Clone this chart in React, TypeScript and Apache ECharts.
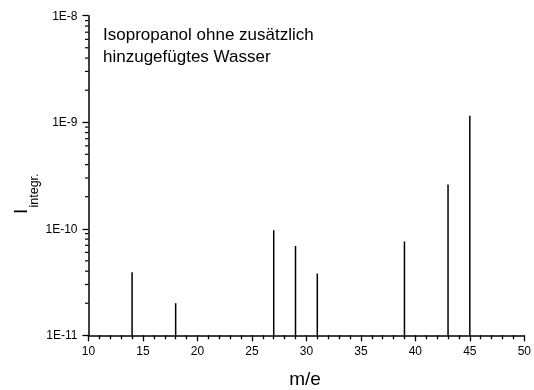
import React, { useEffect, useRef } from "react";
import * as echarts from "echarts";

const massNumbers = [14, 18, 27, 29, 31, 39, 43, 45];
const intensities = [3.9e-11, 2.0e-11, 9.7e-11, 6.9e-11, 3.8e-11, 7.6e-11, 2.6e-10, 1.15e-9];
const yDecades = [1e-11, 1e-10, 1e-9];
const yMantissas = [2, 3, 4, 5, 6, 7, 8, 9];
const annotationLines = ["Isopropanol ohne zusätzlich", "hinzugefügtes Wasser"];
const xTitle = "m/e";
const yTitleMain = "I";
const yTitleSub = "integr.";

const FONT = "'Liberation Sans', Arial, sans-serif";

export default function App() {
  const ref = useRef<HTMLDivElement>(null);
  useEffect(() => {
    if (!ref.current) return;
    const chart = echarts.init(ref.current, undefined, { renderer: "svg" });
    const stems = massNumbers.map((m, i) => [m, intensities[i]]);
    const minorTicks: number[][] = [];
    yDecades.forEach((d) => yMantissas.forEach((k) => minorTicks.push([10, k * d])));

    chart.setOption({
      animation: false,
      textStyle: { fontFamily: FONT, color: "#000" },
      grid: { left: 88.5, right: 9.7, top: 15.7, bottom: 54.7, outerBoundsMode: "none" },
      xAxis: {
        type: "value",
        min: 10,
        max: 50,
        interval: 5,
        axisLine: { show: true, lineStyle: { color: "#000", width: 1.5 } },
        axisTick: { show: true, inside: false, length: 6, lineStyle: { color: "#000", width: 1.3 } },
        minorTick: { show: true, splitNumber: 5, length: 4, lineStyle: { color: "#000", width: 1.3 } },
        axisLabel: { color: "#000", fontSize: 12, margin: 10, fontFamily: FONT },
        splitLine: { show: false },
      },
      yAxis: {
        type: "log",
        logBase: 10,
        min: 1e-11,
        max: 1e-8,
        axisLine: { show: true, lineStyle: { color: "#000", width: 1.5 } },
        axisTick: { show: true, inside: false, length: 6, lineStyle: { color: "#000", width: 1.3 } },
        axisLabel: {
          color: "#000",
          fontSize: 12,
          margin: 11,
          fontFamily: FONT,
          formatter: (v: number) => "1E" + Math.round(Math.log10(v)),
        },
        splitLine: { show: false },
      },
      series: [
        {
          type: "custom",
          data: stems,
          renderItem: (params: any, api: any) => {
            const p0 = api.coord([api.value(0), 1e-11]);
            const p1 = api.coord([api.value(0), api.value(1)]);
            return {
              type: "line",
              shape: { x1: p0[0], y1: p0[1], x2: p1[0], y2: p1[1] },
              style: { stroke: "#000", lineWidth: 1.5 },
            };
          },
        },
        {
          type: "custom",
          data: minorTicks,
          clip: false,
          renderItem: (params: any, api: any) => {
            const p = api.coord([api.value(0), api.value(1)]);
            return {
              type: "line",
              shape: { x1: p[0] - 3.5, y1: p[1], x2: p[0], y2: p[1] },
              style: { stroke: "#000", lineWidth: 1.2 },
            };
          },
        },
      ],
      graphic: [
        {
          type: "text",
          x: 103,
          y: 23,
          style: {
            text: annotationLines.join("\n"),
            font: `17px ${FONT}`,
            fill: "#000",
            lineHeight: 22,
          },
        },
        {
          type: "text",
          x: 305,
          y: 378,
          style: {
            text: xTitle,
            font: `19px ${FONT}`,
            fill: "#000",
            align: "center",
            verticalAlign: "middle",
          },
        },
        {
          type: "group",
          x: 0,
          y: 214,
          rotation: Math.PI / 2,
          children: [
            {
              type: "text",
              x: 0,
              y: 20.5,
              style: {
                text: yTitleMain,
                font: `19px ${FONT}`,
                fill: "#000",
                align: "left",
                verticalAlign: "middle",
              },
            },
            {
              type: "text",
              x: 6.5,
              y: 34,
              style: {
                text: yTitleSub,
                font: `12.5px ${FONT}`,
                fill: "#000",
                align: "left",
                verticalAlign: "middle",
              },
            },
          ],
        },
      ],
    });
    return () => chart.dispose();
  }, []);
  return <div ref={ref} style={{ position: "fixed", left: 0, top: 0, width: 534, height: 390 }} />;
}
